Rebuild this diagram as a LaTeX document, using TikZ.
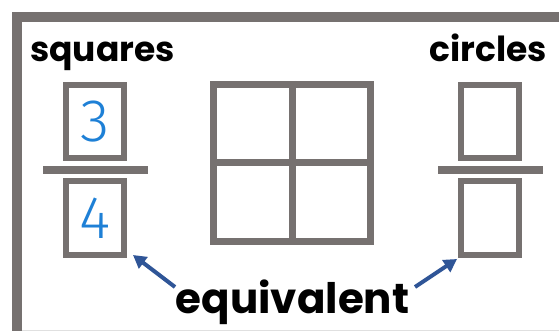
\documentclass[tikz,border=0pt]{standalone}
\usepackage{fontspec}
\setmainfont{Poppins}
\newfontfamily\digitfont{Fira Sans Light}
\usetikzlibrary{arrows.meta}
\definecolor{framegray}{RGB}{118,113,112}
\definecolor{digitblue}{RGB}{30,128,214}
\definecolor{arrowblue}{RGB}{47,85,151}
\begin{document}
\begin{tikzpicture}[x=1pt,y=-1pt,
  box/.style={draw=framegray,line width=6pt,inner sep=0pt,minimum width=58pt,minimum height=73pt,
    font=\digitfont\fontsize{60}{60}\selectfont,text=digitblue},
  bar/.style={fill=framegray,inner sep=0pt,minimum width=105pt,minimum height=8pt},
  lbl/.style={inner sep=0pt,font=\bfseries\fontsize{34.5}{34.5}\selectfont},
  eqarrow/.style={draw=arrowblue,line width=4pt,-{Triangle[length=13pt,width=14pt]}}]
\useasboundingbox (0,0) rectangle (559,331);
\clip (0,0) rectangle (559,331);
% outer frame
\draw[framegray,line width=10pt] (17,340) -- (17,17) -- (570,17);
\draw[black!12,line width=1pt] (22,330) -- (559,330);
% labels
\node[lbl,anchor=base west] (sq) at (30,62) {squares};
\node[lbl,anchor=base east] (ci) at (547,62) {circles};
\node[lbl,anchor=base,font=\bfseries\fontsize{42}{42}\selectfont] (eq) at (292.5,313) {equivalent};
% left fraction
\node[box] (nl) at (95,121.5) {3};
\node[bar] (bl) at (95.5,170) {};
\node[box] (dl) at (95,218) {4};
% right fraction
\node[box] (nr) at (490,121.5) {};
\node[bar] (br) at (490,170) {};
\node[box] (dr) at (490,218) {};
% grid
\node[draw=framegray,line width=7pt,inner sep=0pt,minimum width=157pt,minimum height=157pt] (grid) at (292,163) {};
\draw[framegray,line width=7pt] (grid.north) -- (grid.south);
\draw[framegray,line width=7pt] (grid.west) -- (grid.east);
% arrows
\coordinate (la) at (175,287);
\coordinate (lt) at (133,255);
\coordinate (ra) at (415,287);
\coordinate (rt) at (457,259);
\draw[eqarrow] (la) -- (lt);
\draw[eqarrow] (ra) -- (rt);
\end{tikzpicture}
\end{document}
